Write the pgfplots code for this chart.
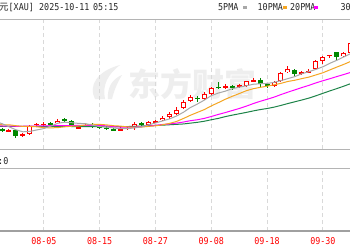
\documentclass[border=0pt]{standalone}
\usepackage{pgfplots}
\pgfplotsset{compat=1.18}
\usepackage{pgfplotstable}
\usepackage{fontspec}
\setmainfont{DejaVu Sans}
\newfontfamily\lab[FakeStretch=0.88]{DejaVu Sans Mono}
\newfontfamily\cjk{Noto Sans CJK SC}

\definecolor{gridc}{HTML}{D9D9D9}
\definecolor{bordc}{HTML}{B4B4B4}
\definecolor{axc}{HTML}{A0A0A0}
\definecolor{cred}{HTML}{FF0000}
\definecolor{cgreen}{HTML}{008800}
\definecolor{ma5c}{HTML}{A8A8A8}
\definecolor{ma10c}{HTML}{F5A623}
\definecolor{ma20c}{HTML}{FF00FF}
\definecolor{ma30c}{HTML}{1E8449}
\definecolor{wmc}{HTML}{EEEEEE}

% up candles: index, open, high, low, close
\pgfplotstableread{
i o h l c
1 3312 3326 3305 3318
3 3281 3298 3270 3290
4 3290 3358 3282 3350
5 3358 3375 3345 3364
6 3362 3382 3345 3367
8 3370 3400 3365 3390
11 3334 3350 3328 3342
12 3350 3365 3342 3357
17 3316 3345 3311 3328
18 3332 3348 3322 3336
19 3340 3378 3322 3365
21 3360 3390 3351 3382
22 3380 3395 3372 3386
23 3392 3422 3385 3410
24 3415 3453 3405 3440
25 3438 3490 3433 3470
26 3482 3540 3475 3530
27 3532 3578 3525 3565
29 3548 3600 3540 3585
30 3584 3640 3578 3632
32 3630 3660 3622 3643
34 3642 3658 3632 3650
35 3648 3685 3640 3679
36 3680 3705 3675 3688
39 3646 3685 3636 3678
40 3680 3750 3675 3744
41 3746 3792 3738 3768
43 3740 3758 3725 3746
44 3748 3770 3740 3755
45 3768 3836 3760 3832
46 3828 3868 3810 3856
47 3868 3876 3850 3874
49 3868 3896 3860 3887
50 3887 3977 3884 3960
}\uptab

% down candles
\pgfplotstableread{
i o h l c
0 3325 3332 3302 3310
2 3318 3322 3264 3274
7 3368 3380 3356 3364
9 3397 3407 3382 3393
10 3390 3396 3344 3352
13 3356 3372 3332 3340
14 3342 3350 3330 3337
15 3336 3348 3322 3331
16 3328 3336 3311 3314
20 3369 3376 3351 3363
28 3560 3568 3525 3546
31 3640 3672 3622 3630
33 3645 3652 3616 3638
37 3692 3705 3630 3662
38 3660 3668 3628 3648
42 3763 3770 3718 3735
48 3893 3897 3832 3857
}\downtab

% moving averages
\pgfplotstableread{
i ma5 ma10 ma20 ma30
-1 3384 3362 3350 3348
0 3367 3359 3350 3348
1 3344 3359 3349 3348
2 3322 3352 3348 3348
3 3307 3347 3348 3348
4 3310 3347 3349 3348
5 3321 3344 3350 3348
6 3331 3338 3351 3348
7 3349 3336 3352 3348
8 3370 3338 3353 3348
9 3378 3344 3353 3348
10 3374 3348 3353 3346
11 3369 3350 3355 3346
12 3367 3358 3355 3345
13 3356 3363 3355 3345
14 3345 3362 3354 3345
15 3342 3358 3351 3344
16 3335 3352 3345 3344
17 3330 3349 3342 3345
18 3330 3343 3341 3346
19 3336 3341 3342 3347
20 3343 3342 3345 3350
21 3358 3347 3349 3352
22 3372 3351 3355 3354
23 3387 3359 3361 3356
24 3402 3369 3365 3359
25 3423 3383 3371 3362
26 3451 3405 3379 3365
27 3486 3429 3389 3371
28 3512 3450 3396 3377
29 3541 3471 3406 3385
30 3574 3498 3420 3396
31 3593 3522 3435 3406
32 3607 3547 3449 3419
33 3625 3569 3464 3430
34 3637 3589 3479 3440
35 3646 3610 3496 3450
36 3658 3625 3515 3461
37 3662 3635 3532 3471
38 3664 3644 3547 3479
39 3672 3654 3563 3489
40 3685 3665 3582 3502
41 3700 3679 3600 3516
42 3715 3688 3617 3529
43 3736 3700 3634 3542
44 3751 3711 3650 3556
45 3768 3727 3668 3573
46 3787 3743 3684 3591
47 3813 3764 3699 3609
48 3835 3785 3715 3626
49 3860 3805 3730 3644
50 3885 3827 3746 3663
}\matab

\pgfplotsset{
  panel/.style={
    scale only axis, width=360pt,
    xmin=-0.287, xmax=51.327,
    xtick={-2,6,14,22,30,38,46},
    major tick length=0pt,
    xmajorgrids, ymajorgrids,
    major x grid style={gridc, line width=1pt, dash pattern=on 4pt off 3pt},
    major y grid style={gridc, line width=1pt},
    axis y line=none, axis x line=box,
    yticklabel style={opacity=0},
  },
  wick/.style={draw=none, mark=none, forget plot,
    error bars/.cd, y dir=both, y explicit, error mark=none,
    error bar style={draw=#1, line width=1pt}},
  body/.style 2 args={draw=none, mark=none, forget plot,
    error bars/.cd, y dir=both, y explicit, error mark=none,
    error bar style={draw=#1, line width=#2}},
}

\begin{document}
\begin{tikzpicture}
\useasboundingbox (0,0) rectangle (350pt,250pt);
\clip (0,0) rectangle (350pt,250pt);
\fill[white] (0,0) rectangle (350pt,250pt);

% watermark
\begin{scope}[x=1pt, y=-1pt, shift={(0,250pt)}]
  \fill[wmc] (95,99) .. controls (88,86) and (97,71) .. (120,65) .. controls (108,74) and (102,85) .. (105,99) -- cycle;
  \fill[wmc] (108,99) .. controls (107,88) and (112,79) .. (122,75) .. controls (117,83) and (114,91) .. (112,99) -- cycle;
  \node[text=wmc, inner sep=0pt] at (192,84) {\cjk\bfseries\fontsize{32}{32}\selectfont 东方财富};
\end{scope}

% main panel
\begin{axis}[panel,
  at={(0pt,101pt)}, anchor=south west, height=130pt,
  ymin=3180, ymax=4140, ytick={3180,3300,...,4140},
  xticklabel style={opacity=0},
  axis line style={bordc, line width=1pt},
]
\addplot[wick=cred] table[x=i, y expr={(\thisrow{h}+\thisrow{l})/2}, y error expr={(\thisrow{h}-\thisrow{l})/2}] \uptab;
\addplot[wick=cgreen] table[x=i, y expr={(\thisrow{h}+\thisrow{l})/2}, y error expr={(\thisrow{h}-\thisrow{l})/2}] \downtab;
\addplot[body={cred}{5pt}] table[x=i, y expr={(\thisrow{o}+\thisrow{c})/2}, y error expr={max((\thisrow{c}-\thisrow{o})/2,3.7)}] \uptab;
\addplot[body={white}{3pt}] table[x=i, y expr={(\thisrow{o}+\thisrow{c})/2}, y error expr={max((\thisrow{c}-\thisrow{o})/2-7.385,0)}] \uptab;
\addplot[body={cgreen}{5pt}] table[x=i, y expr={(\thisrow{o}+\thisrow{c})/2}, y error expr={max((\thisrow{o}-\thisrow{c})/2,3.7)}] \downtab;
\addplot[ma30c, line width=1pt, mark=none] table[x=i, y=ma30] \matab;
\addplot[ma20c, line width=1pt, mark=none] table[x=i, y=ma20] \matab;
\addplot[ma10c, line width=1pt, mark=none] table[x=i, y=ma10] \matab;
\addplot[ma5c, line width=1pt, mark=none] table[x=i, y=ma5] \matab;
\end{axis}

% volume panel
\begin{axis}[panel,
  at={(0pt,19pt)}, anchor=south west, height=63pt,
  ymin=0, ymax=4, ytick={0,1,2,3,4},
  xticklabels={07-24,08-05,08-15,08-27,09-08,09-18,09-30},
  xticklabel style={text=red, font=\lab\fontsize{9.5}{10}\selectfont, inner sep=0pt, anchor=north, yshift=-6pt},
  axis line style={bordc, line width=1pt},
]
\end{axis}
\draw[axc, line width=1.2pt] (0,19pt) -- (350pt,19pt);

% title and legend
\node[anchor=base west, inner sep=0pt, text=black!85] at (-10.5pt,239.3pt) {\fontsize{9.5}{10}\selectfont\cjk 美元{\lab[XAU]}};
\node[anchor=base west, inner sep=0pt, text=black!85] at (39pt,239.3pt) {\lab\fontsize{9.5}{10}\selectfont 2025-10-11};
\node[anchor=base west, inner sep=0pt, text=black!85] at (93pt,239.3pt) {\lab\fontsize{9.5}{10}\selectfont 05:15};

\node[anchor=base west, inner sep=0pt, text=black!85] at (218pt,239.3pt) {\lab\fontsize{9.5}{10}\selectfont 5PMA};
\fill[ma5c] (243pt,241pt) rectangle (247pt,244pt);
\node[anchor=base west, inner sep=0pt, text=black!85] at (257.5pt,239.3pt) {\lab\fontsize{9.5}{10}\selectfont 10PMA};
\fill[ma10c] (283pt,241pt) rectangle (287pt,244pt);
\node[anchor=base west, inner sep=0pt, text=black!85] at (290pt,239.3pt) {\lab\fontsize{9.5}{10}\selectfont 20PMA};
\fill[ma20c] (314pt,241pt) rectangle (318pt,244pt);
\node[anchor=base west, inner sep=0pt, text=black!85] at (340.5pt,239.3pt) {\lab\fontsize{9.5}{10}\selectfont 30PMA};

% volume header
\node[anchor=base east, inner sep=0pt, text=black!85] at (8.5pt,86pt) {\fontsize{9.5}{10}\selectfont\cjk 成交量{\lab :0}};
\end{tikzpicture}
\end{document}
